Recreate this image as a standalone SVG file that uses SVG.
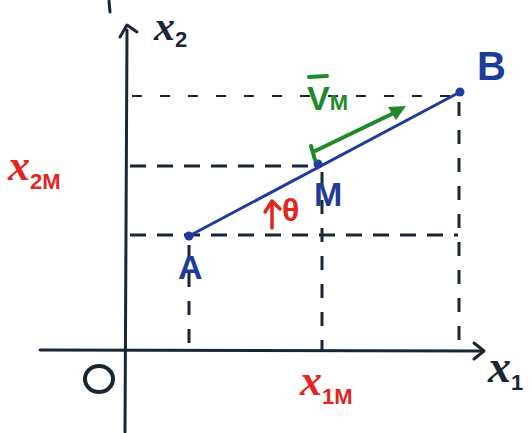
<svg xmlns="http://www.w3.org/2000/svg" width="532" height="433" viewBox="0 0 532 433">
<defs>
<style>
.axis{stroke:#1b2633;stroke-width:3;fill:none;stroke-linecap:round;stroke-linejoin:round}
.dash{stroke:#1b2633;stroke-width:3;fill:none;stroke-dasharray:16 11}
.dashv{stroke:#1b2633;stroke-width:3;fill:none;stroke-dasharray:14 14}
.thin{stroke:#1b2633;stroke-width:2;fill:none;stroke-dasharray:10 18}
.seg{stroke:#1f3c9a;stroke-width:3;fill:none;stroke-linecap:round}
.pt{fill:#1f3c9a}
.lblk{font-family:"Liberation Serif",serif;font-style:italic;font-weight:bold;fill:#1b2633}
.lred{font-family:"Liberation Serif",serif;font-style:italic;font-weight:bold;fill:#e0261f}
.sub{font-family:"Liberation Sans",sans-serif;font-style:normal;font-weight:bold}
.lblue{font-family:"Liberation Sans",sans-serif;font-weight:bold;fill:#1f3c9a}
.green{stroke:#1f8a2c;stroke-width:4;fill:none;stroke-linecap:round;stroke-linejoin:round}
</style>
</defs>
<rect width="532" height="433" fill="#ffffff"/>
<g id="connectors">
<line class="thin" x1="132" y1="96" x2="455" y2="96"/>
<line class="dash" x1="130" y1="166" x2="318" y2="166"/>
<line class="dash" x1="130" y1="235" x2="458" y2="235"/>
<line class="dashv" x1="189" y1="245" x2="189" y2="350"/>
<line class="dashv" x1="322" y1="172" x2="322" y2="350"/>
<line class="dashv" x1="459" y1="102" x2="459" y2="350"/>
</g>
<g id="axes">
<line class="axis" x1="109" y1="1" x2="110" y2="12"/>
<path class="axis" d="M125 432 L127 30"/>
<path class="axis" d="M120 37 L127 25 L137 32"/>
<path class="axis" d="M40 350 L482 351"/>
<path class="axis" d="M474 343 L484 351 L474 359"/>
</g>
<g id="segment">
<line class="seg" x1="189" y1="236" x2="460" y2="92"/>
<circle class="pt" cx="189" cy="236" r="4.5"/>
<circle class="pt" cx="318" cy="164" r="4.5"/>
<circle class="pt" cx="460" cy="92" r="4.5"/>
</g>
<g id="vector">
<line class="green" x1="313" y1="152" x2="398" y2="111"/>
<path d="M406 106 L388 107 L396 120 Z" fill="#1f8a2c"/>
<line class="green" x1="311" y1="146" x2="315" y2="160"/>
</g>
<g id="angle">
<path d="M272 228 L272 203 M265 212 L272 201 L280 209" stroke="#e0261f" stroke-width="3.5" fill="none" stroke-linecap="round" stroke-linejoin="round"/>
<text x="282" y="221" font-size="32" font-weight="bold" font-family="Liberation Sans,sans-serif" fill="#e0261f">θ</text>
</g>
<g id="labels">
<text class="lblk" x="154" y="40" font-size="42">x<tspan class="sub" font-size="22" dy="7">2</tspan></text>
<text class="lblk" x="488" y="382" font-size="46">x<tspan class="sub" font-size="22" dy="8">1</tspan></text>
<ellipse cx="99" cy="379" rx="14" ry="13" stroke="#1b2633" stroke-width="4" fill="none"/>
<text class="lred" x="8" y="180" font-size="44">x<tspan class="sub" font-size="22" dy="9">2M</tspan></text>
<text class="lred" x="300" y="395" font-size="44">x<tspan class="sub" font-size="22" dy="9">1M</tspan></text>
<text class="lblue" x="178" y="279" font-size="34">A</text>
<text class="lblue" x="314" y="206" font-size="34">M</text>
<text class="lblue" x="477" y="80" font-size="40">B</text>
<text x="307" y="110" font-size="34" font-family="Liberation Sans,sans-serif" font-weight="bold" fill="#1f8a2c">V<tspan font-size="22">M</tspan></text>
<line x1="309" y1="77" x2="327" y2="76" stroke="#1f8a2c" stroke-width="4" stroke-linecap="round"/>
</g>
</svg>
